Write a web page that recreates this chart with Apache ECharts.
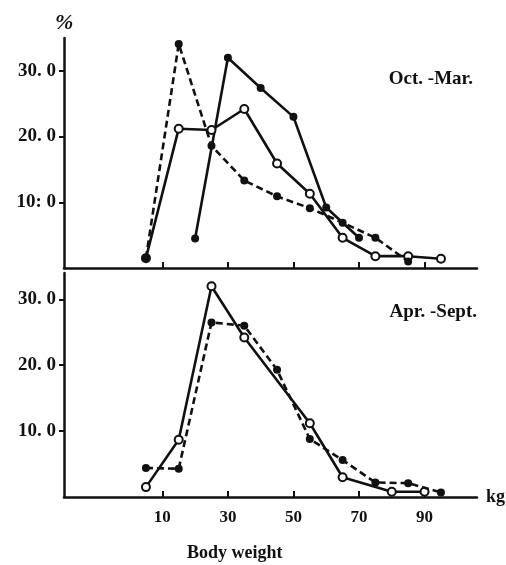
<!DOCTYPE html>
<html>
<head>
<meta charset="utf-8">
<script src="https://cdn.jsdelivr.net/npm/echarts@6/dist/echarts.min.js"></script>
<style>
  html, body { margin: 0; padding: 0; background: #fff; }
  #main { width: 506px; height: 565px; }
</style>
</head>
<body>
<div id="main"></div>
<script>
// body weight classes (kg) and percentages
var xTicks = [10, 30, 50, 70, 90];
var yTicks = [10, 20, 30];
var topYLabels = ['10: 0', '20. 0', '30. 0'];
var botYLabels = ['10. 0', '20. 0', '30. 0'];

// Oct.-Mar.
var topDashKg = [5, 15, 25, 35, 45, 55, 65, 75, 85];
var topDash = [1.5, 34.1, 18.6, 13.3, 10.9, 9.1, 6.9, 4.6, 1.0];
var topFillKg = [20, 30, 40, 50, 60, 70];
var topFill = [4.5, 32.0, 27.4, 23.0, 9.2, 4.6];
var topOpenKg = [5, 15, 25, 35, 45, 55, 65, 75, 85, 95];
var topOpen = [1.5, 21.2, 21.0, 24.2, 15.9, 11.3, 4.6, 1.8, 1.8, 1.4];

// Apr.-Sept.
var botDashKg = [5, 15, 25, 35, 45, 55, 65, 75, 85, 95];
var botDash = [4.4, 4.3, 26.5, 26.0, 19.3, 8.8, 5.6, 2.2, 2.1, 0.7];
var botOpenKg = [5, 15, 25, 35, 55, 65, 80, 90];
var botOpen = [1.5, 8.7, 32.0, 24.2, 11.2, 3.0, 0.8, 0.8];

function pairs(xs, ys) {
    var out = [];
    for (var i = 0; i < xs.length; i++) out.push([xs[i], ys[i]]);
    return out;
}

var serif = '"Liberation Serif", "DejaVu Serif", serif';
var ink = '#111';

function xAxisFor(idx, showLabels) {
    return {
        type: 'value', gridIndex: idx, min: -20, max: 106,
        axisLine: { onZero: false, lineStyle: { color: ink, width: 2.5 } },
        axisTick: { inside: true, length: 6, customValues: xTicks, lineStyle: { color: ink, width: 2 } },
        axisLabel: {
            show: showLabels, customValues: xTicks, margin: 12,
            color: ink, fontFamily: serif, fontWeight: 'bold', fontSize: 17
        },
        splitLine: { show: false },
        name: showLabels ? 'kg' : '', nameLocation: 'end', nameGap: 9,
        nameTextStyle: { color: ink, fontFamily: serif, fontWeight: 'bold', fontSize: 18, verticalAlign: 'middle' }
    };
}

function yAxisFor(idx, max, labels) {
    return {
        type: 'value', gridIndex: idx, min: 0, max: max,
        axisLine: { show: true, onZero: false, lineStyle: { color: ink, width: 2.5 } },
        axisTick: { show: true, length: 5, customValues: yTicks, lineStyle: { color: ink, width: 2 } },
        axisLabel: {
            customValues: yTicks, margin: 8,
            color: ink, fontFamily: serif, fontWeight: 'bold', fontSize: 19,
            formatter: function (v) { return labels[yTicks.indexOf(v)]; }
        },
        splitLine: { show: false }
    };
}

function lineSeries(idx, data, dashed, open) {
    return {
        type: 'line', xAxisIndex: idx, yAxisIndex: idx, data: data,
        symbol: open ? 'emptyCircle' : 'circle',
        symbolSize: 8,
        lineStyle: { color: ink, width: 2.6, type: dashed ? [7, 4] : 'solid' },
        itemStyle: { color: ink, borderColor: ink, borderWidth: open ? 1.8 : 0 },
        z: dashed ? 4 : (open ? 3 : 2)
    };
}

var chart = echarts.init(document.getElementById('main'));
chart.setOption({
    animation: false,
    backgroundColor: '#fff',
    grid: [
        { left: 64, right: 29, top: 38, height: 230 },
        { left: 64, right: 29, top: 273, height: 224 }
    ],
    xAxis: [xAxisFor(0, false), xAxisFor(1, true)],
    yAxis: [yAxisFor(0, 35, topYLabels), yAxisFor(1, 34, botYLabels)],
    series: [
        lineSeries(0, pairs(topOpenKg, topOpen), false, true),
        lineSeries(0, pairs(topFillKg, topFill), false, false),
        lineSeries(0, pairs(topDashKg, topDash), true, false),
        lineSeries(1, pairs(botOpenKg, botOpen), false, true),
        lineSeries(1, pairs(botDashKg, botDash), true, false)
    ],
    graphic: [
        { type: 'text', left: 55, top: 12, style: { text: '%', fill: ink, font: 'italic bold 22px ' + serif } },
        { type: 'text', right: 33, top: 70, style: { text: 'Oct. -Mar.', fill: ink, font: 'bold 19px ' + serif } },
        { type: 'text', right: 29, top: 303, style: { text: 'Apr. -Sept.', fill: ink, font: 'bold 19px ' + serif } },
        { type: 'text', left: 187, top: 544, style: { text: 'Body weight', fill: ink, font: 'bold 18px ' + serif } }
    ]
});
</script>
</body>
</html>
